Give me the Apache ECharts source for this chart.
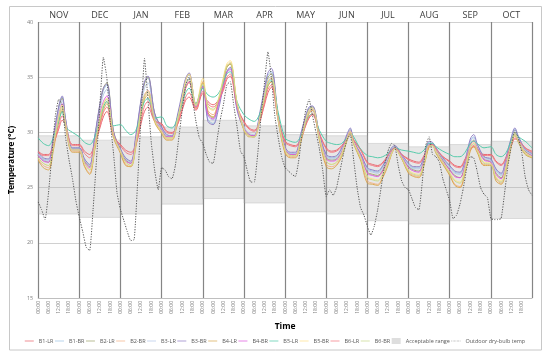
<!DOCTYPE html>
<html>
<head>
<meta charset="utf-8">
<script src="https://cdn.jsdelivr.net/npm/echarts/dist/echarts.min.js"></script>
<style>html,body{margin:0;padding:0;background:#fff;}#c{width:550px;height:357px;}</style>
</head>
<body>
<div id="c"></div>
<script>
// ---- data ----
const MONTHS = ['NOV','DEC','JAN','FEB','MAR','APR','MAY','JUN','JUL','AUG','SEP','OCT'];
const TICK_LABELS = ['00:00','06:00','12:00','18:00'];
const INDOOR_HOURS = [0, 3, 6, 9, 12, 14, 16, 20];
const OUTDOOR_HOURS = [0, 2, 4, 6, 8, 10, 12, 14, 16, 18, 20, 22];
const RANGE_LOW  = [22.6, 22.3, 22.6, 23.5, 24.0, 23.6, 22.8, 22.6, 22.0, 21.7, 22.0, 22.2];
const RANGE_HIGH = [29.7, 29.3, 29.6, 30.5, 31.1, 30.6, 29.8, 29.7, 29.0, 28.7, 28.9, 29.2];

const B1_LR = [28.3,28.0,28.0,29.0,30.3,31.1,30.6,28.9, 28.9,28.3,28.0,29.0,30.4,31.4,31.9,29.6, 28.9,28.4,28.2,28.9,30.8,31.9,32.3,31.0, 30.8,30.1,30.0,30.6,32.0,32.9,33.2,32.0, 33.5,32.8,32.5,32.9,33.8,34.8,35.1,32.3, 31.0,30.4,30.2,30.9,32.5,33.6,34.1,31.2, 29.2,28.9,28.8,29.4,30.6,31.3,31.6,29.9, 28.6,28.3,28.4,28.8,29.4,30.0,29.3,28.5, 27.3,27.1,27.0,27.3,27.9,28.4,28.6,28.0, 27.6,27.4,27.3,27.9,28.8,28.9,28.5,27.8, 27.4,27.0,26.9,27.6,28.4,28.7,28.5,28.0, 28.0,27.4,27.1,27.8,28.8,29.4,29.3,28.6, 28.3];
const B1_BR = [28.0,27.6,27.5,29.6,32.3,33.2,31.2,28.6, 28.6,27.6,27.0,29.6,32.4,33.8,34.3,30.0, 28.5,27.6,27.3,29.6,32.9,34.5,34.9,31.6, 30.4,29.7,29.6,31.2,33.4,34.8,35.2,32.4, 34.3,31.2,30.8,32.3,34.3,35.5,35.9,32.2, 30.5,29.8,29.7,31.4,33.8,35.2,35.5,31.4, 28.6,28.1,28.1,29.6,31.4,32.2,32.3,29.8, 27.9,27.7,27.8,28.5,29.7,30.3,29.2,28.1, 26.7,26.5,26.4,26.9,27.8,28.5,28.7,27.9, 27.1,26.8,26.8,27.7,29.1,29.0,28.6,27.6, 26.9,26.4,26.3,27.4,29.2,29.6,28.9,27.8, 27.5,26.6,26.2,27.7,29.5,30.3,29.6,28.4, 28.0];
const B2_LR = [27.9,27.5,27.3,29.4,32.2,33.1,31.0,28.5, 28.5,27.4,26.9,29.5,32.5,34.0,34.5,30.1, 28.4,27.5,27.2,29.5,32.8,34.4,35.0,31.7, 30.3,29.6,29.6,31.1,33.3,34.7,35.3,32.5, 34.5,31.8,31.3,32.6,34.6,35.9,36.2,32.5, 30.4,29.8,29.7,31.3,33.6,35.0,35.3,31.3, 28.5,28.0,28.0,29.5,31.3,32.1,32.3,29.7, 27.7,27.5,27.6,28.3,29.6,30.2,29.1,28.0, 26.4,26.2,26.1,26.6,27.5,28.3,28.6,27.8, 26.9,26.6,26.5,27.5,28.9,28.9,28.4,27.5, 26.6,26.1,25.9,27.1,28.9,29.3,28.7,27.6, 27.3,26.3,25.9,27.3,29.2,30.0,29.4,28.3, 27.9];
const B2_BR = [27.6,27.0,26.8,28.8,31.2,32.2,30.6,28.3, 28.3,27.0,26.3,28.6,31.0,32.3,32.8,29.6, 28.2,27.1,26.9,28.9,31.8,33.2,33.6,31.0, 30.0,29.4,29.4,30.8,32.8,34.0,34.5,32.3, 34.6,32.0,31.6,32.8,34.8,36.0,36.3,32.6, 30.2,29.7,29.6,31.0,33.0,34.2,34.6,31.1, 28.2,27.8,27.8,29.1,30.9,31.8,32.0,29.4, 27.1,26.9,27.1,27.9,29.3,30.0,29.0,27.6, 25.6,25.4,25.3,26.0,27.1,28.0,28.5,27.6, 26.4,26.1,26.0,27.1,28.7,28.8,28.2,27.2, 26.2,25.3,25.1,26.5,28.4,28.8,28.3,27.1, 27.1,25.8,25.4,26.8,28.9,29.8,29.2,28.1, 27.7];
const B3_LR = [28.0,27.5,27.4,29.5,32.0,32.9,31.0,28.5, 28.5,27.5,27.0,29.4,32.0,33.4,33.9,29.9, 28.4,27.6,27.3,29.4,32.5,34.0,34.5,31.4, 30.3,29.7,29.6,31.0,33.1,34.4,34.9,32.3, 34.0,31.5,31.1,32.4,34.2,35.4,35.8,32.2, 30.5,29.9,29.8,31.3,33.5,34.8,35.1,31.3, 28.6,28.1,28.1,29.5,31.2,32.0,32.2,29.7, 27.8,27.6,27.7,28.4,29.6,30.2,29.2,28.0, 26.6,26.4,26.3,26.8,27.7,28.4,28.7,27.9, 27.0,26.7,26.7,27.6,29.0,28.9,28.5,27.6, 26.8,26.3,26.2,27.3,29.1,29.5,28.8,27.7, 27.4,26.5,26.1,27.6,29.4,30.2,29.5,28.4, 28.0];
const B3_BR = [28.2,27.7,27.6,29.8,32.4,33.3,31.2,28.6, 28.6,27.6,27.1,29.7,32.6,34.0,34.4,30.0, 28.5,27.7,27.4,29.8,33.0,34.6,35.1,31.7, 30.5,29.8,29.7,31.4,33.6,34.9,35.4,32.6, 34.2,31.0,30.7,32.0,34.2,35.5,35.9,32.0, 30.3,29.7,29.6,31.6,34.0,35.4,35.8,31.5, 28.7,28.2,28.2,29.8,31.5,32.3,32.4,29.9, 28.0,27.8,27.9,28.6,29.8,30.4,29.2,28.1, 26.8,26.6,26.5,27.0,27.9,28.6,28.8,28.0, 27.2,26.9,26.9,27.8,29.2,29.1,28.6,27.7, 27.0,26.5,26.4,27.5,29.4,29.8,29.0,27.8, 27.6,26.7,26.3,27.8,29.6,30.4,29.7,28.5, 28.1];
const B4_LR = [27.5,26.8,26.6,28.5,31.0,32.0,30.4,28.2, 28.2,26.9,26.2,28.4,30.8,32.0,32.6,29.5, 28.1,27.0,26.9,28.7,31.6,33.0,33.4,30.9, 29.9,29.3,29.3,30.7,32.7,34.0,34.6,32.2, 34.5,31.8,31.4,32.7,34.7,35.9,36.2,32.5, 30.2,29.6,29.6,30.9,32.9,34.2,34.6,31.0, 28.1,27.7,27.7,29.0,30.8,31.7,32.0,29.3, 26.9,26.7,27.0,27.8,29.2,29.9,28.9,27.5, 25.4,25.3,25.2,25.9,27.0,28.0,28.5,27.6, 26.3,26.0,25.9,27.0,28.7,28.8,28.1,27.1, 26.1,25.2,25.0,26.4,28.3,28.7,28.2,27.0, 27.0,25.6,25.3,26.6,28.8,29.7,29.1,28.0, 27.7];
const B4_BR = [27.9,27.4,27.3,29.2,31.6,32.6,30.8,28.4, 28.4,27.3,26.8,29.0,31.6,32.8,33.3,29.8, 28.3,27.4,27.2,29.2,32.2,33.4,33.8,31.2, 30.2,29.6,29.6,30.9,32.9,34.1,34.6,32.3, 34.1,31.6,31.2,32.5,34.2,35.4,35.7,32.3, 30.4,29.8,29.7,31.1,33.3,34.6,34.9,31.2, 28.5,28.0,28.0,29.3,31.1,31.9,32.1,29.6, 27.6,27.4,27.5,28.2,29.5,30.1,29.1,27.9, 26.3,26.1,26.0,26.5,27.4,28.2,28.6,27.8, 26.8,26.5,26.4,27.4,28.9,28.9,28.3,27.4, 26.6,26.0,25.9,27.0,28.8,29.2,28.6,27.5, 27.3,26.2,25.8,27.2,29.1,29.9,29.3,28.2, 27.9];
const B5_LR = [29.5,29.0,28.8,29.6,31.0,31.9,30.5,30.0, 29.6,29.1,28.9,29.6,31.2,32.3,32.8,30.6, 30.7,30.2,29.8,30.2,31.8,32.8,33.1,31.3, 31.4,30.6,30.4,31.2,32.6,33.6,34.0,32.6, 34.0,33.4,33.2,33.5,34.5,35.3,35.5,32.8, 31.6,31.2,31.0,31.6,33.2,34.4,34.7,31.8, 29.5,29.2,29.1,29.6,30.8,31.5,31.7,30.2, 29.2,29.0,28.9,29.0,29.5,30.0,29.6,28.5, 27.9,27.8,27.7,27.8,28.1,28.4,28.6,28.4, 28.3,28.2,28.1,28.4,29.0,29.0,28.7,28.3, 28.0,27.8,27.8,28.2,29.0,29.2,29.0,28.6, 28.7,28.0,27.8,28.2,29.3,29.9,29.6,29.2, 28.6];
const B5_BR = [27.7,27.2,27.0,29.0,31.5,32.5,30.8,28.4, 28.4,27.2,26.6,28.8,31.3,32.6,33.1,29.7, 28.3,27.3,27.0,29.1,32.1,33.4,33.8,31.1, 30.1,29.5,29.5,31.0,33.2,34.7,35.3,32.5, 34.9,32.3,32.0,33.0,35.0,36.2,36.5,32.7, 30.3,29.7,29.6,31.1,33.3,34.6,35.0,31.2, 28.4,27.9,27.9,29.3,31.1,32.0,32.2,29.6, 27.4,27.1,27.3,28.1,29.4,30.1,29.1,27.8, 26.0,25.8,25.7,26.3,27.3,28.1,28.5,27.7, 26.6,26.3,26.2,27.2,28.8,28.8,28.3,27.3, 26.4,25.7,25.5,26.8,28.7,29.1,28.5,27.3, 27.2,26.0,25.6,27.0,29.0,29.9,29.3,28.2, 27.8];
const B6_LR = [28.2,27.9,27.9,28.9,30.6,31.5,30.6,28.8, 28.8,28.1,27.7,28.9,30.6,31.8,32.3,29.7, 28.8,28.2,28.0,28.9,31.1,32.4,32.8,31.1, 30.7,30.0,29.9,30.6,32.2,33.2,33.6,32.1, 33.7,32.6,32.3,32.8,34.0,35.0,35.3,32.4, 30.9,30.3,30.1,30.9,32.7,33.9,34.3,31.3, 29.1,28.8,28.7,29.3,30.7,31.4,31.7,29.9, 28.5,28.2,28.3,28.7,29.4,30.0,29.3,28.4, 27.2,27.0,26.9,27.2,27.9,28.4,28.6,28.0, 27.5,27.3,27.2,27.8,28.8,28.9,28.5,27.8, 27.3,26.9,26.8,27.5,28.5,28.8,28.5,27.9, 27.9,27.3,27.0,27.7,28.9,29.5,29.3,28.6, 28.2];
const B6_BR = [27.7,27.2,27.0,28.9,31.4,32.4,30.7,28.4, 28.4,27.2,26.6,28.8,31.2,32.5,33.0,29.7, 28.3,27.3,27.0,29.0,31.9,33.3,33.7,31.1, 30.1,29.5,29.5,30.9,33.0,34.3,34.8,32.4, 34.4,32.4,32.1,32.9,34.8,36.0,36.3,32.6, 30.3,29.7,29.6,31.1,33.2,34.5,34.9,31.2, 28.4,27.9,27.9,29.2,31.0,31.9,32.1,29.5, 27.4,27.1,27.3,28.0,29.4,30.0,29.0,27.7, 25.9,25.7,25.6,26.2,27.2,28.1,28.5,27.7, 26.5,26.2,26.1,27.2,28.8,28.8,28.2,27.3, 26.3,25.6,25.4,26.7,28.6,29.0,28.4,27.2, 27.1,25.9,25.5,26.9,29.0,29.8,29.2,28.1, 27.8];
const OUTDOOR = [23.7,23.0,22.1,24.5,28.0,31.5,33.0,32.5,29.5,27.5,25.8,23.8,
  22.3,21.0,19.6,19.3,23.0,27.5,32.5,36.8,35.0,31.0,28.0,24.5,
  23.0,22.0,21.0,20.2,20.3,25.5,31.5,36.7,33.0,29.0,26.5,24.8,
  26.8,26.6,26.0,25.8,27.0,29.5,32.0,34.3,35.0,33.0,31.0,29.5,
  29.0,28.0,27.3,27.2,29.0,31.0,32.5,34.3,34.6,32.5,30.5,28.3,
  27.8,26.5,25.5,25.5,28.0,31.5,34.5,37.3,35.0,31.5,29.5,27.8,
  26.8,26.5,26.2,26.0,27.5,30.0,32.0,33.0,31.5,30.0,28.5,26.5,
  24.2,24.8,24.3,25.0,26.5,28.0,29.3,29.8,27.5,25.0,23.2,22.5,
  21.5,20.7,21.5,23.0,25.0,27.0,28.3,29.0,28.8,27.0,25.6,25.0,
  24.8,24.0,23.2,23.0,25.5,28.8,29.6,28.0,27.8,27.3,25.8,24.8,
  23.8,22.2,22.5,23.5,25.0,26.8,27.8,27.7,26.5,25.0,24.4,24.1,
  22.2,22.1,22.1,22.2,24.5,27.0,28.8,30.2,29.5,28.2,26.0,24.8,
  24.3];

const INDOOR = [
  ['B1-LR', B1_LR, '#e8636b'],
  ['B1-BR', B1_BR, '#9cc3e5'],
  ['B2-LR', B2_LR, '#9ea26b'],
  ['B2-BR', B2_BR, '#f4b183'],
  ['B3-LR', B3_LR, '#b4c7e7'],
  ['B3-BR', B3_BR, '#8e7cc3'],
  ['B4-LR', B4_LR, '#d9a84e'],
  ['B4-BR', B4_BR, '#dd55dd'],
  ['B5-LR', B5_LR, '#4fc9a8'],
  ['B5-BR', B5_BR, '#ffe08a'],
  ['B6-LR', B6_LR, '#f4777f'],
  ['B6-BR', B6_BR, '#c6d98c']
];

// ---- build ----
const DAY = 24;
function positions(hours) {
  const xs = [];
  for (let m = 0; m < MONTHS.length; m++) hours.forEach(h => xs.push(m * DAY + h));
  xs.push(MONTHS.length * DAY);
  return xs;
}
const xIn = positions(INDOOR_HOURS);
const xOut = positions(OUTDOOR_HOURS);
const pair = (xs, ys) => ys.map((v, i) => [xs[i], v]);

const FONT = 'Open Sans, DejaVu Sans, sans-serif';
const LINE_ICON = 'path://M0,0H20V1.6H0Z';
const DOT_ICON = 'path://M0,0H1.4V1.6H0Z M3,0H4.4V1.6H3Z M6,0H7.4V1.6H6Z M9,0H10.4V1.6H9Z M12,0H13.4V1.6H12Z M15,0H16.4V1.6H15Z M18,0H19.4V1.6H18Z';

const series = INDOOR.map(([name, vals, color]) => ({
  name, type: 'line', data: pair(xIn, vals), smooth: 0.35, symbol: 'none', showSymbol: false,
  lineStyle: { color, width: 0.95 }, itemStyle: { color }, z: 3
}));
series.unshift({
  name: 'Acceptable range', type: 'custom', z: 1, silent: true,
  data: MONTHS.map((m, i) => [i * DAY, (i + 1) * DAY, RANGE_LOW[i], RANGE_HIGH[i]]),
  encode: { x: [0, 1], y: [2, 3] },
  renderItem: (params, api) => {
    const a = api.coord([api.value(0), api.value(3)]);
    const b = api.coord([api.value(1), api.value(2)]);
    return { type: 'rect', shape: { x: a[0], y: a[1], width: b[0] - a[0], height: b[1] - a[1] },
      style: { fill: 'rgba(175,175,175,0.3)', stroke: 'rgba(150,150,150,0.45)', lineWidth: 0.6 } };
  }
});
series.push({
  name: 'Outdoor dry-bulb temp', type: 'line', data: pair(xOut, OUTDOOR), symbol: 'none', showSymbol: false,
  smooth: 0.15, lineStyle: { color: '#555', width: 1, type: [1.2, 1.4] }, itemStyle: { color: '#555' }, z: 4
});

const legendData = INDOOR.map(s => ({ name: s[0], icon: LINE_ICON, itemStyle: { color: s[2] } })).concat([
  { name: 'Acceptable range', icon: 'rect', itemStyle: { color: '#dedede' } },
  { name: 'Outdoor dry-bulb temp', icon: DOT_ICON, itemStyle: { color: '#555' } }
]);

const chart = echarts.init(document.getElementById('c'), null, { renderer: 'canvas' });
chart.setOption({
  animation: false,
  backgroundColor: '#fff',
  textStyle: { fontFamily: FONT },
  graphic: [{ type: 'rect', shape: { x: 9.5, y: 6.5, width: 532, height: 343.5 },
    style: { fill: 'none', stroke: '#c8c8c8', lineWidth: 1 }, silent: true }],
  grid: { left: 35, right: 18, top: 22, bottom: 59 },
  legend: {
    data: legendData, top: 333, left: 'center', width: 540, itemWidth: 9, itemHeight: 6, itemGap: 1.5,
    symbolKeepAspect: true,
    textStyle: { fontSize: 5.5, color: '#595959', fontFamily: FONT }
  },
  xAxis: [{
    type: 'value', min: 0, max: MONTHS.length * DAY, interval: 6,
    name: 'Time', nameLocation: 'middle', nameGap: 17,
    nameTextStyle: { fontWeight: 'bold', fontSize: 8.5, color: '#000', fontFamily: FONT },
    axisLine: { show: true, lineStyle: { color: '#bfbfbf' } },
    axisTick: { show: false },
    splitLine: { show: false },
    axisLabel: {
      rotate: 90, fontSize: 5, color: '#7f7f7f', margin: 3, fontFamily: FONT,
      formatter: v => v >= MONTHS.length * DAY ? '' : TICK_LABELS[(v % DAY) / 6]
    }
  }, {
    type: 'category', position: 'top', data: MONTHS, boundaryGap: true,
    axisLine: { show: false }, axisTick: { show: false },
    axisLabel: { fontSize: 9, color: '#404040', margin: 2, interval: 0, fontFamily: FONT },
    splitLine: { show: true, interval: 0, lineStyle: { color: '#858585', width: 1.2 } }
  }],
  yAxis: {
    type: 'value', min: 15, max: 40, interval: 5,
    name: 'Temperature (°C)', nameLocation: 'middle', nameGap: 10,
    nameTextStyle: { fontWeight: 'bold', fontSize: 8, color: '#000', fontFamily: FONT },
    axisLine: { show: false }, axisTick: { show: false },
    axisLabel: { fontSize: 5.5, color: '#7f7f7f', margin: 5, fontFamily: FONT },
    splitLine: { lineStyle: { color: '#d0d0d0', width: 1 } }
  },
  series
});
</script>
</body>
</html>
